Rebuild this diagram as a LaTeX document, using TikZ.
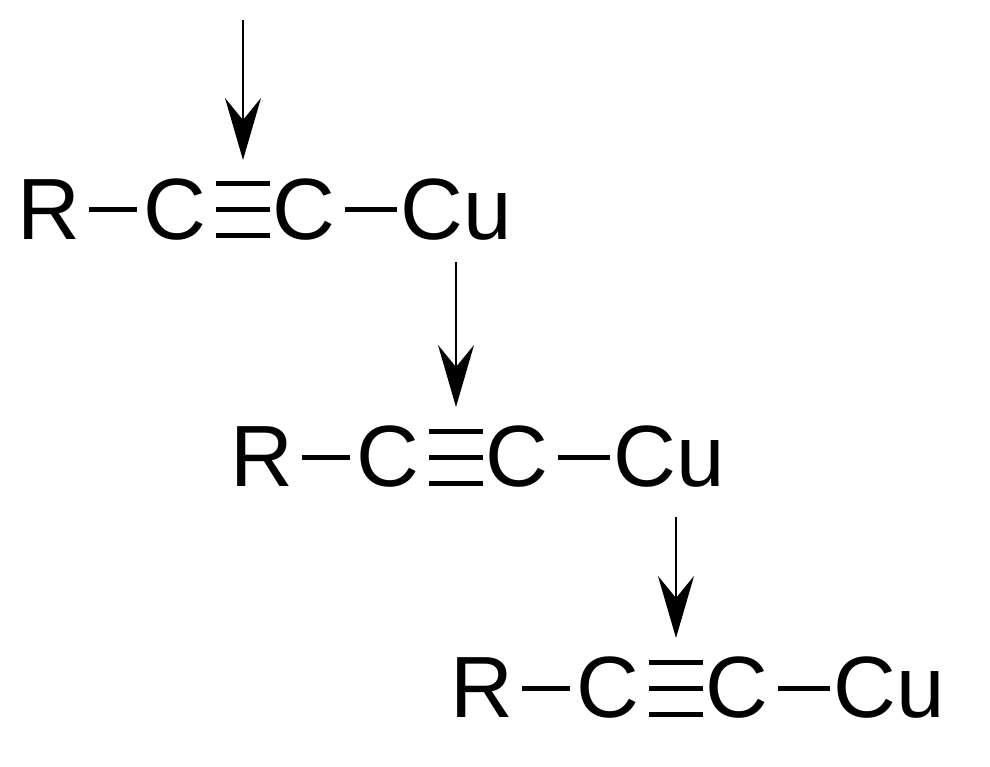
\documentclass[tikz,border=0pt]{standalone}
\usepackage{fontspec}
\setmainfont{Liberation Sans}
\usetikzlibrary{arrows.meta}
\begin{document}
\begin{tikzpicture}[x=1pt,y=-1pt,
  atom/.style={inner sep=0pt,font=\fontsize{87}{87}\selectfont},
  bond/.style={line width=5pt},
  push/.style={line width=2.5pt,-{Stealth[length=62pt,width=36pt,inset=22pt]}}]
\useasboundingbox (0,0) rectangle (990,767);
\foreach \i/\dx/\dy in {1/0/0,2/213/247,3/433/478}{
  \begin{scope}[shift={(\dx,\dy)}]
  \node[atom] (R\i) at (49,210) {R};
  \node[atom] (Ca\i) at (175,210) {C};
  \node[atom] (Cb\i) at (304,210) {C};
  \node[atom] (Cu\i) at (456,210) {Cu};
  \coordinate (b1a\i) at (89,210); \coordinate (b1b\i) at (137,210);
  \draw[bond] (b1a\i) -- (b1b\i);
  \coordinate (ta\i) at (216,210); \coordinate (tb\i) at (270,210);
  \draw[bond] (ta\i) -- (tb\i);
  \draw[bond] ([yshift=-26]ta\i) -- ([yshift=-26]tb\i);
  \draw[bond] ([yshift=26]ta\i) -- ([yshift=26]tb\i);
  \coordinate (b2a\i) at (345,210); \coordinate (b2b\i) at (397,210);
  \draw[bond] (b2a\i) -- (b2b\i);
  \coordinate (top\i) at (243,160);
  \end{scope}}
\coordinate (s1) at (243,20);
\coordinate (s2) at (456,262);
\coordinate (s3) at (676,517);
\draw[push] (s1) -- (top1);
\draw[push] (s2) -- (top2);
\draw[push] (s3) -- (top3);
\end{tikzpicture}
\end{document}
